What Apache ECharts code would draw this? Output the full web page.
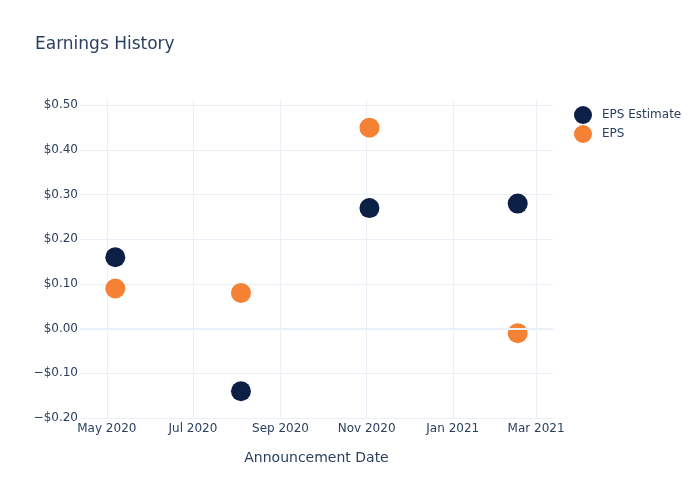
<!DOCTYPE html>
<html><head><meta charset="utf-8">
<script src="https://cdn.jsdelivr.net/npm/echarts@6/dist/echarts.min.js"></script>
<style>html,body{margin:0;padding:0;background:#fff}#c{width:700px;height:500px}</style>
</head><body><div id="c"></div>
<script>
const dates = ['2020-05-07', '2020-08-04', '2020-11-03', '2021-02-16'];
const epsEstimate = [0.16, -0.14, 0.27, 0.28];
const eps = [0.09, 0.08, 0.45, -0.01];
const xTickDates = ['2020-05-01', '2020-07-01', '2020-09-01', '2020-11-01', '2021-01-01', '2021-03-01'];
const xTickLabels = ['May 2020', 'Jul 2020', 'Sep 2020', 'Nov 2020', 'Jan 2021', 'Mar 2021'];
const yTicks = [-0.2, -0.1, 0, 0.1, 0.2, 0.3, 0.4, 0.5];

const ts = d => new Date(d + 'T00:00:00Z').getTime();
const xTickTs = xTickDates.map(ts);
const labelMap = {};
xTickTs.forEach((t, i) => labelMap[t] = xTickLabels[i]);
const font = '"DejaVu Sans", sans-serif';
const txt = '#2a3f5f';
const gridCol = '#ebf0f8';

const chart = echarts.init(document.getElementById('c'), null, {renderer: 'canvas'});
chart.setOption({
  animation: false,
  backgroundColor: '#fff',
  title: {text: 'Earnings History', left: 35, top: 36, padding: 0, textStyle: {fontFamily: font, fontSize: 17, fontWeight: 'normal', color: txt}},
  legend: {
    orient: 'vertical', left: 574, top: 106, padding: 0, itemGap: 1, itemWidth: 18, itemHeight: 18,
    icon: 'circle',
    textStyle: {fontFamily: font, fontSize: 12, color: txt, padding: [0, 0, 0, 5]},
    data: ['EPS Estimate', 'EPS']
  },
  grid: {left: 80, right: 147, top: 100, bottom: 82, containLabel: false},
  xAxis: {
    type: 'value', scale: true,
    min: ts('2020-04-12'), max: ts('2021-03-13'),
    name: 'Announcement Date', nameLocation: 'middle', nameGap: 33,
    nameTextStyle: {fontFamily: font, fontSize: 14, color: txt},
    axisLine: {show: false},
    axisTick: {show: false, customValues: xTickTs},
    axisLabel: {customValues: xTickTs, formatter: v => labelMap[v] || '', fontFamily: font, fontSize: 12, color: txt, margin: 5, hideOverlap: false},
    splitLine: {show: true, lineStyle: {color: gridCol, width: 1}}
  },
  yAxis: {
    type: 'value', min: -0.2, max: 0.512,
    axisLine: {show: false}, axisTick: {show: false, customValues: yTicks},
    axisLabel: {customValues: yTicks, fontFamily: font, fontSize: 12, color: txt, margin: 2,
      formatter: v => (v < -1e-9 ? '\u2212$' : '$') + Math.abs(v).toFixed(2)},
    splitLine: {show: true, lineStyle: {color: gridCol, width: 1}}
  },
  series: [
    {name: 'EPS Estimate', type: 'scatter', symbolSize: 20, itemStyle: {color: '#0c1f44', opacity: 1},
     data: dates.map((d, i) => [ts(d), epsEstimate[i]]), z: 3,
     markLine: {silent: true, symbol: 'none', label: {show: false}, lineStyle: {color: gridCol, width: 2, type: 'solid'}, data: [{yAxis: 0}]}},
    {name: 'EPS', type: 'scatter', symbolSize: 20, itemStyle: {color: '#f58134', opacity: 1},
     data: dates.map((d, i) => [ts(d), eps[i]]), z: 3}
  ]
});
</script></body></html>
